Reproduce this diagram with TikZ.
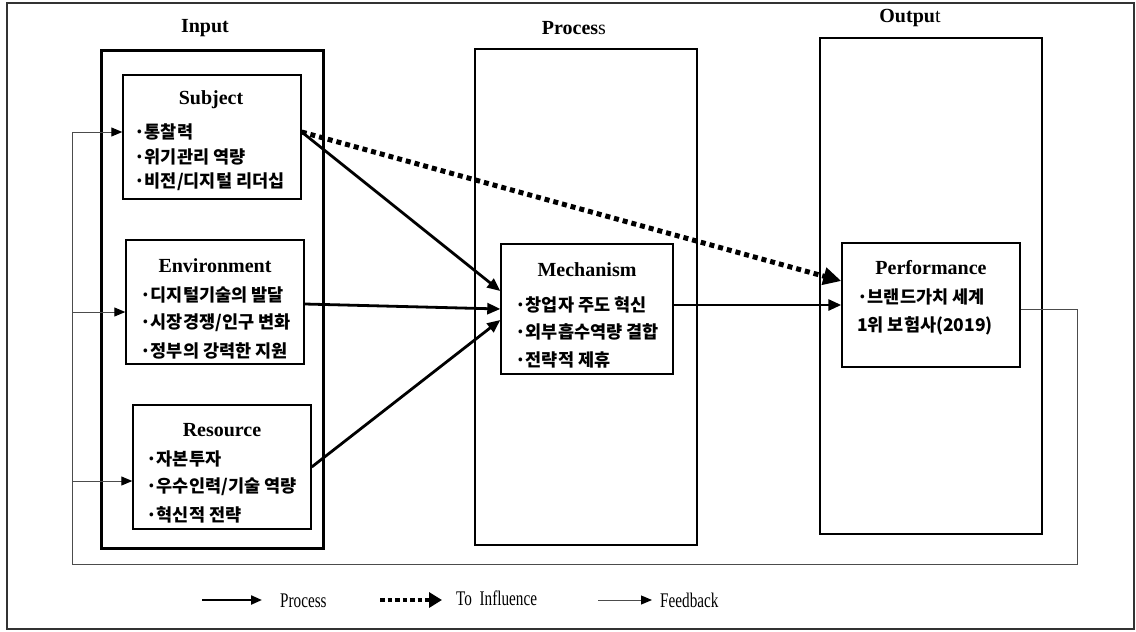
\documentclass[tikz,border=0pt]{standalone}
\usepackage{fontspec}
\setmainfont{Liberation Serif}
\newfontfamily\kr{Noto Sans CJK KR}
\usetikzlibrary{arrows.meta}
\begin{document}
\begin{tikzpicture}[x=1pt,y=-1pt,
  sub/.style={draw,line width=1.4pt,inner sep=0pt},
  col/.style={draw,line width=1.9pt,inner sep=0pt},
  ttl/.style={font=\fontsize{20}{24}\selectfont\bfseries,inner sep=0pt},
  itm/.style={anchor=west,font=\kr\bfseries\fontsize{17.5}{20}\selectfont,inner sep=0pt},
  leg/.style={anchor=west,font=\fontsize{16}{20}\selectfont,inner sep=0pt},
  proc/.style={line width=2.8pt,-{Triangle[length=13pt,width=11pt]}},
  infl/.style={line width=5pt,dash pattern=on 5pt off 4pt,-{Triangle[length=18pt,width=17pt]}},
  fb/.style={line width=1pt,draw=black!70,-{Triangle[length=11pt,width=9pt,fill=black,color=black]}},
  fbl/.style={line width=1pt,draw=black!70}]
\useasboundingbox (0,0) rectangle (1136,632);
\draw[line width=1.2pt,black!80] (7,3) rectangle (1134,629);
% column boxes
\node[draw,line width=3pt,inner sep=0pt,minimum width=222pt,minimum height=498pt] (inbox) at (212,299) {};
\node[col,minimum width=222pt,minimum height=496pt] (procbox) at (586,297) {};
\node[col,minimum width=222pt,minimum height=496pt] (outbox) at (931,286) {};
\node[ttl] (lin) at (205,28) {Input};
\node[ttl] (lproc) at (574,28) {Proces\mdseries s};
\node[ttl] (lout) at (910,18) {Outpu\mdseries t};
% sub boxes
\node[sub,minimum width=178pt,minimum height=124pt] (subj) at (212,137) {};
\node[sub,minimum width=178pt,minimum height=124pt] (env) at (215,302) {};
\node[sub,minimum width=178pt,minimum height=124pt] (res) at (222,467) {};
\node[sub,minimum width=172pt,minimum height=130pt] (mech) at (587,309) {};
\node[sub,minimum width=178pt,minimum height=124pt] (perf) at (931,305) {};
% titles
\node[ttl] (tsubj) at (211,100) {Subject};
\node[ttl] (tenv) at (215,266) {Environment};
\node[ttl] (tres) at (222,430) {Resource};
\node[ttl] (tmech) at (587,270) {Mechanism};
\node[ttl] (tperf) at (931,268) {Performance};
% items
\node[itm] (s1) at (134,132) {·통찰력};
\node[itm] (s2) at (134,157) {·위기관리 역량};
\node[itm] (s3) at (134,182) {·비전/디지털 리더십};
\node[itm] (e1) at (140,295) {·디지털기술의 발달};
\node[itm] (e2) at (140,323) {·시장경쟁/인구 변화};
\node[itm] (e3) at (140,351) {·정부의 강력한 지원};
\node[itm] (r1) at (146,459) {·자본투자};
\node[itm] (r2) at (146,487) {·우수인력/기술 역량};
\node[itm] (r3) at (146,515) {·혁신적 전략};
\node[itm] (m1) at (515,305) {·창업자 주도 혁신};
\node[itm] (m2) at (515,332) {·외부흡수역량 결합};
\node[itm] (m3) at (515,360) {·전략적 제휴};
\node[itm] (p1) at (857,297) {·브랜드가치 세계};
\node[itm] (p2) at (857,326) {1위 보험사(2019)};
% process arrows
\draw[proc] (subj.east |- s1) -- ([yshift=18pt]mech.west);
\draw[proc] ([yshift=-2pt]env.east) -- (mech.west);
\draw[proc] (res.east) -- ([yshift=-11pt]mech.west);
\draw[proc] (mech.east |- perf.west) -- (perf.west);
% influence
\draw[infl] (subj.east |- s1) -- ([yshift=24pt]perf.west);
% feedback
\coordinate (fbR) at (1077,564);
\coordinate (fbL) at (72,564);
\draw[fb] ([yshift=-4pt]perf.east) -| (fbR) -- (fbL) |- (subj.west |- s1);
\draw[fb] (fbL |- 0,312) -- ([yshift=-10pt]env.west);
\draw[fb] (fbL |- 0,481) -- ([yshift=-14pt]res.west);
% legend
\coordinate (lp1) at (202,600); \coordinate (lp2) at (262,600);
\coordinate (li1) at (380,600); \coordinate (li2) at (442,600);
\coordinate (lf1) at (598,600); \coordinate (lf2) at (652,600);
\draw[line width=2.2pt,-{Triangle[length=11pt,width=9pt]}] (lp1) -- (lp2);
\draw[line width=4.5pt,dash pattern=on 4.5pt off 3pt,-{Triangle[length=13pt,width=15pt]}] (li1) -- (li2);
\draw[fb] (lf1) -- (lf2);
\node[leg] (tp) at (280,601) {\scalebox{0.95}[1.3]{Process}};
\node[leg] (ti) at (456,598) {\scalebox{0.95}[1.3]{To\ \ Influence}};
\node[leg] (tf) at (660,600) {\scalebox{0.95}[1.3]{Feedback}};
\end{tikzpicture}
\end{document}
